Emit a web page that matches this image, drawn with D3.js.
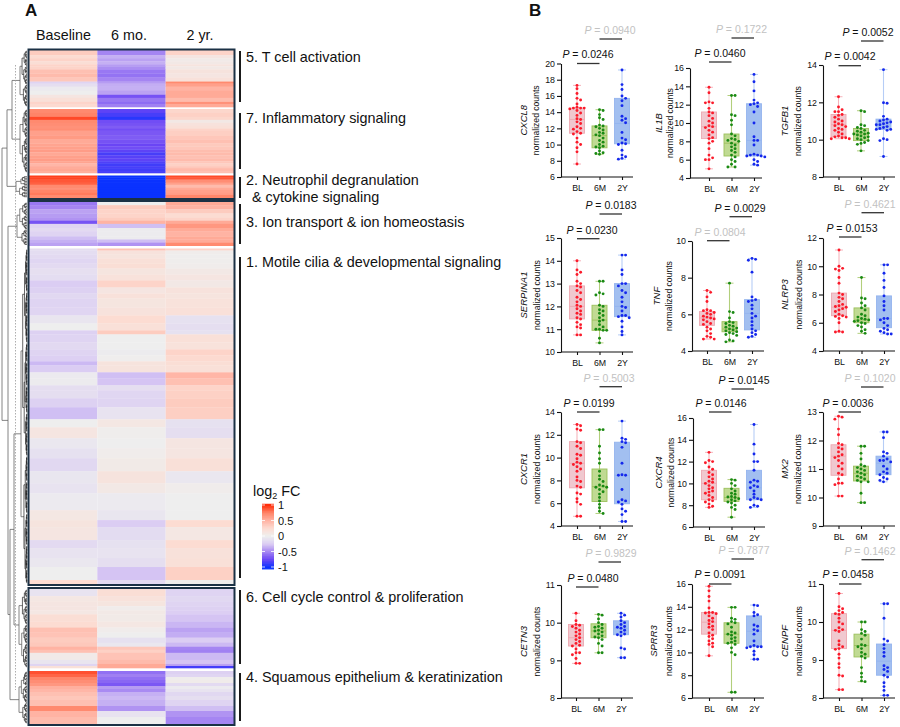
<!DOCTYPE html>
<html>
<head>
<meta charset="utf-8">
<style>
html,body{margin:0;padding:0;background:#fff}
svg{display:block}
text{font-family:"Liberation Sans",Arial,sans-serif;fill:#111}
</style>
<script src="https://cdn.jsdelivr.net/npm/d3@7"></script>
</head>
<body>
<svg id="chart" width="900" height="727"></svg>
<script>
// ---------- Panel A data: [row weight, Baseline, 6 mo., 2 yr.] log2 FC ----------
const columns = ["Baseline", "6 mo.", "2 yr."];
const cluster5 = [[5,.35,-.5,.3],[3,.25,-.35,.12],[3,.3,-.4,.05],[3,.22,-.35,.08],[2,.3,-.42,.14],[3,.3,-.47,.08],[4,.42,-.55,.15],[4,.45,-.57,.12],[4,.38,-.5,.18],[2,-.2,-.42,.72],[3,-.12,-.36,.6],[4,-.03,-.35,.5],[4,0,-.4,.55],[3,.12,-.7,.55],[4,.2,-.55,.45],[2,.3,-.6,.68],[3,.26,-.52,.55]];
const cluster7 = [[4,.72,-.78,.28],[4,.75,-.84,.32],[3,.92,-.92,.28],[3,.72,-.72,.08],[3,.7,-.7,.16],[3,.68,-.66,.2],[2,.7,-.72,.3],[5,.6,-.68,.33],[4,.63,-.66,.38],[4,.55,-.7,.42],[3,.58,-.75,.36],[3,.6,-.72,.38],[3,.62,-.78,.44],[3,.56,-.84,.45],[3,.6,-.8,.42],[3,.62,-.78,.45],[2,.58,-.82,.38],[3,.48,-.86,.32],[2,.54,-.84,.38],[3,.56,-.86,.46],[2,.52,-.84,.42]];
const cluster2 = [[2,.95,-1,.92],[2,.93,-1,.88],[3,.88,-1,.7],[2,.85,-1,.6],[3,.72,-1,.45],[2,.68,-1,.55],[3,.75,-1,.6],[2,.78,-1,.62],[3,.72,-1,.74]];
const cluster3 = [[3,-.55,0,.55],[4,-.5,.35,.5],[4,-.4,.3,.35],[4,-.42,.3,.25],[3,-.45,.35,.3],[3,-.7,.5,.55],[4,-.2,-.3,.65],[3,-.15,-.02,.55],[5,-.2,-.02,.5],[3,-.3,-.02,.55],[3,-.35,-.3,.55],[3,-.4,-.45,.72]];
const cluster1 = [[2,-.12,.4,.3],[4,-.13,.16,.03],[4,-.15,.14,.01],[5,-.18,.2,.02],[5,-.15,.22,.03],[6,-.11,.13,.08],[6,-.13,.17,.12],[7,-.25,.3,.08],[6,-.22,.12,.16],[5,-.17,.18,.14],[9,-.2,.13,.17],[8,-.19,.16,.19],[8,-.07,.25,-.1],[7,0,.2,-.12],[4,-.22,.35,-.1],[8,-.2,0,.2],[7,-.16,0,.17],[6,-.2,-.02,.3],[6,-.23,.01,.26],[4,-.32,.15,.22],[7,-.25,.15,.2],[6,-.03,-.3,.48],[7,-.02,-.28,.42],[5,-.12,-.12,.3],[8,-.12,-.18,.32],[9,-.22,-.2,.35],[12,-.3,-.08,.33],[8,0,.1,-.1],[11,.12,.02,-.12],[10,-.05,0,.12],[10,-.1,.03,.12],[13,-.17,.06,.2],[12,-.06,.15,-.05],[10,-.08,.08,.03],[17,-.03,-.03,0],[10,.1,-.06,0],[7,.14,-.25,.25],[13,.12,-.14,.1],[8,-.15,-.1,.25],[10,-.08,-.08,.18],[9,-.05,-.12,.2],[13,0,-.28,.32],[4,.25,-.15,.02]];
const cluster6 = [[7,-.08,.22,-.2],[5,.1,.17,-.17],[5,.12,.13,-.2],[4,.12,.03,-.22],[4,.1,.07,-.24],[7,.22,.06,-.28],[6,.25,.1,-.33],[5,.42,.03,-.4],[5,.4,0,-.36],[5,.35,-.1,-.25],[4,.37,-.05,-.32],[3,.5,.38,-.5],[3,.42,.32,-.52],[7,.05,.4,-.32],[4,-.07,.45,-.28],[2,-.2,.55,-.4],[2,.2,.55,-.85]];
const cluster4 = [[3,.9,-.58,-.22],[3,.84,-.52,-.18],[3,.74,-.58,.02],[3,.7,-.62,.04],[3,.65,-.68,-.15],[3,.52,-.42,-.03],[3,.48,-.48,-.08],[4,.42,-.35,-.17],[4,.38,-.32,-.12],[6,.42,-.35,-.2],[5,.72,-.45,-.3],[6,.5,-.08,-.45],[7,.45,0,-.5]];
const clusterNames = ["5. T cell activation","7. Inflammatory signaling","2. Neutrophil degranulation","3. Ion transport & ion homeostasis","1. Motile cilia & developmental signaling","6. Cell cycle control & proliferation","4. Squamous epithelium & keratinization"];
const colorStops = [-1,-.75,-.5,-.25,0,.25,.5,.75,1];
const colorValues = ["#0a32ff","#6a45f5","#a585f2","#dbcdf3","#eeeeee","#fcdcd2","#ffb3a3","#ff8468","#ff2d0a"];
const legendTicks = [1,.5,0,-.5,-1];

// ---------- Panel B data ----------
const groups = ["BL","6M","2Y"];
const genes = ["CXCL8","IL1B","TGFB1","SERPINA1","TNF","NLRP3","CXCR1","CXCR4","MX2","CETN3","SPRR3","CENPF"];
const pLower = ["0.0246","0.0460","0.0042","0.0230","0.0804","0.0153","0.0199","0.0146","0.0036","0.0480","0.0091","0.0458"];
const pUpper = ["0.0940","0.1722","0.0052","0.0183","0.0029","0.4621","0.5003","0.0145","0.1020","0.9829","0.7877","0.1462"];
const yDomains = [[6,20],[4,16],[8,14],[10,15],[4,10],[4,12],[4,14],[6,16],[9,13],[8,11],[6,16],[8,11]];
const yTickSteps = [2,2,2,1,2,2,2,2,1,1,2,1];

const cxcl8Box = [[11.4,13.1,14.5],[9.6,11.1,12.3],[10.1,12.6,15.7]];
const cxcl8BL = [17.3,16.9,16.3,15.7,15.5,15,14.6,14.5,14.5,14.5,14.4,14.2,13.9,13.6,13.2,13.1,12.8,12.6,12.2,12,11.9,11.6,11.4,11.3,10.8,10.3,10,9.6,9.1,7.6];
const cxcl86M = [14.3,14.2,13.7,13.3,13.1,12.4,12.3,12.2,12,11.8,11.5,11.4,11.2,11.1,10.8,10.5,10.3,10,9.8,9.7,9.6,9.2,9,8.9,8.8];
const cxcl82Y = [19.2,17.4,16.8,16,15.7,15.4,14.8,13.5,13.2,13,12.7,11.5,10.8,10.6,10.2,10.1,10,9.3,8.7,8.5,8.3,8.2];

const il1bBox = [[8.3,9.6,11.2],[6.4,7.8,8.8],[6.4,8.1,12.1]];
const il1bBL = [13.9,13.3,12.3,12.2,12.2,11.6,11.2,11.1,10.8,10.5,10.2,10,9.7,9.6,9.5,9.2,9,8.7,8.4,8.3,8,7.8,7.2,6.5,6.2,6,6,5];
const il1b6M = [13,13,10.9,10.8,10.3,9.8,8.8,8.6,8.3,8.2,8.1,8,7.8,7.6,7.4,7.2,7,6.8,6.5,6.3,6,5.8,5.5,5.2,5.2];
const il1b2Y = [15.3,14.5,13.5,12.5,12.2,12.1,12,11.8,11.2,10,8.5,8.1,8.1,7.6,6.6,6.5,6.5,6.4,6.4,6.3,6,5.8,5.5,5.4];

const tgfb1Box = [[10.15,10.8,11.35],[9.95,10.3,10.6],[10.55,10.8,11.1]];
const tgfb1BL = [12.3,11.75,11.6,11.5,11.5,11.35,11.3,11.2,11.1,11,10.95,10.85,10.8,10.75,10.7,10.6,10.55,10.5,10.4,10.3,10.2,10.15,10.1,10.1,10.05,10.05];
const tgfb16M = [11.55,11.5,10.8,10.75,10.65,10.6,10.5,10.45,10.4,10.35,10.3,10.3,10.25,10.2,10.15,10.1,10.05,10,9.95,9.85,9.8,9.75,9.4];
const tgfb12Y = [13.75,11.98,11.95,11.25,11.1,11.05,11,10.95,10.9,10.85,10.8,10.8,10.7,10.65,10.6,10.55,10.55,10.5,10.05,10,9.95,9.1];

const serpina1Box = [[11.45,12,12.9],[10.95,11.4,12.05],[11.55,12,13]];
const serpina1BL = [14,13.6,13.5,13.4,13.1,13,12.9,12.85,12.7,12.6,12.4,12.3,12.2,12.05,12,11.9,11.8,11.7,11.65,11.5,11.45,11.3,11.2,11.1,11.05,10.75,10.75];
const serpina16M = [13.1,13.1,12.6,12.55,12.5,12.05,12,11.85,11.8,11.7,11.6,11.5,11.4,11.35,11.2,11.1,11,11,10.95,10.95,10.6,10.4];
const serpina12Y = [14.25,14.25,13.6,13.4,13,13,12.9,12.7,12.6,12.4,12.2,12,11.95,11.8,11.6,11.6,11.55,11.5,11.35,11.1,10.9,10.75];

const tnfBox = [[5.4,5.8,6.15],[5.05,5.2,5.6],[5.15,6.05,6.8]];
const tnfBL = [7.3,7.2,6.95,6.7,6.25,6.2,6.2,6.1,6.05,6,5.9,5.85,5.8,5.75,5.7,5.6,5.5,5.45,5.3,5.2,5.1,4.95,4.8,4.75,4.65,4.65];
const tnf6M = [7.7,6.15,6.1,5.8,5.6,5.55,5.5,5.4,5.35,5.3,5.25,5.2,5.15,5.1,5.05,5,4.95,4.9,4.85,4.6,4.55,4.5];
const tnf2Y = [9.05,9,8.95,8.3,6.95,6.8,6.75,6.7,6.5,6.3,6.05,5.9,5.8,5.6,5.4,5.2,5.1,5,4.9,4.8,4.75];

const nlrp3Box = [[6.5,7.1,8.1],[6,6.2,7.05],[5.65,6.3,7.9]];
const nlrp3BL = [11.15,10,9.85,9.8,9.7,9.2,8.8,8.1,8,7.8,7.7,7.5,7.3,7.2,7.15,7.1,7,6.9,6.8,6.6,6.5,6.45,6.4,6.3,6,5.4,5.35,5.35];
const nlrp36M = [9.2,7.75,7.7,7.4,7.2,7.05,6.9,6.6,6.5,6.4,6.3,6.25,6.2,6.15,6.1,6,5.95,5.8,5.7,5.5,5.4,5.25];
const nlrp32Y = [10.1,10.1,9.5,9,8.5,7.9,7.5,7.2,6.9,6.3,6.3,6.2,6,5.8,5.6,5.5,5.4,5.3,5.2,5.2];

const cxcr1Box = [[7.35,9.5,11.4],[6.15,7.45,9],[5.95,8.45,11.35]];
const cxcr1BL = [12.9,12.8,12.5,12.4,11.4,11.3,11,10.8,10.3,10.2,9.9,9.6,9.5,9.4,9.2,9,8.8,8.3,8,7.9,7.5,7.4,6.9,6.8,6.4,6.1,5.9,4.85,4.85];
const cxcr16M = [12.45,12.45,11,10.4,9.9,9.5,8.8,8.4,8.1,7.9,7.6,7.5,7.4,7.4,7.2,7,6.8,6.5,6.2,5.9,5.6,5.3,5.1];
const cxcr12Y = [13.2,11.7,11.6,11.4,11.3,10.9,9.5,8.5,8.45,8.45,7.2,6.3,6.2,6.1,5.9,5.5,5.3,5,4.4,4.4];

const cxcr4Box = [[8.5,10,11.2],[8.35,8.7,9.55],[8.5,9.6,11.2]];
const cxcr4BL = [12.85,12.1,12,11.9,11.5,11.3,11,10.8,10.6,10.4,10.2,10.1,10,9.8,9.6,9.5,9.3,9.2,9.1,8.9,8.7,8.5,8.4,8.3,8.1,7.9,7.8];
const cxcr46M = [10.35,10.3,10,9.8,9.5,9.3,9.1,9,8.8,8.75,8.7,8.6,8.5,8.4,8.3,8.2,8,7.8,7.6,6.9];
const cxcr42Y = [15.4,13.6,12.7,12,12,11.2,10.3,10.2,10.1,9.8,9.7,9.6,9.3,9,8.7,8.6,8.5,8.5,8,7.9,7.8];

const mx2Box = [[10.78,11.45,11.85],[10.58,10.85,11.1],[10.8,11.2,11.45]];
const mx2BL = [12.85,12.82,12.75,12.4,12.2,11.9,11.85,11.75,11.7,11.6,11.5,11.45,11.4,11.3,11.2,11.1,11,10.85,10.8,10.65,10.5,10.5,10.45,10.05,10.05];
const mx26M = [11.8,11.8,11.55,11.35,11.15,11.1,11.05,11,10.95,10.9,10.85,10.8,10.75,10.7,10.65,10.6,10.55,10.55,10.15,9.82,9.82];
const mx22Y = [12.3,12.3,12.1,11.6,11.55,11.45,11.35,11.3,11.3,11.25,11.1,11,10.9,10.85,10.8,10.7,10.65,10.6,10.55];

const cetn3Box = [[9.38,9.6,9.95],[9.6,9.78,9.97],[9.68,9.85,10.05]];
const cetn3BL = [10.25,10.05,9.95,9.93,9.9,9.85,9.8,9.75,9.7,9.65,9.6,9.55,9.5,9.45,9.4,9.38,9.3,9.2,9.2,9.15,9.05,8.92,8.92];
const cetn36M = [10.22,10.2,10.1,10,9.95,9.9,9.88,9.85,9.8,9.78,9.75,9.7,9.65,9.62,9.6,9.55,9.45,9.38,9.2,9.2];
const cetn32Y = [10.25,10.2,10.15,10.05,10,9.95,9.9,9.88,9.85,9.8,9.75,9.7,9.68,9.65,9.33,9.3,9.07,9.07];

const sprr3Box = [[11.6,12.65,13.5],[10.8,11.6,12.6],[10.5,11.85,13.2]];
const sprr3BL = [15.8,15.4,14.9,14.5,13.9,13.5,13.5,13.45,13.4,13.2,13,12.8,12.7,12.5,12.3,12.2,12,11.7,11.5,11.4,11.2,11,10.8,10.7,10.5,9.7];
const sprr36M = [13.95,13.95,13,12.9,12.7,12.6,12.5,12.2,11.8,11.7,11.6,11.5,11.3,11.2,11,10.9,10.8,10.7,10.4,10,9.8,6.5,6.5];
const sprr32Y = [14.15,14.1,13.5,13.3,13.2,12.4,12.3,12,11.9,11.6,11,10.6,10.5,10.5,10.5,10.4,10.1,9.8,9.4,9.4];

const cenpfBox = [[9.3,9.78,10.22],[9.08,9.38,9.68],[8.6,8.97,9.42]];
const cenpfBL = [10.75,10.4,10.35,10.3,10.25,10.22,10.2,10.1,10,9.95,9.85,9.8,9.78,9.75,9.5,9.4,9.35,9.3,9.28,9.15,9.05,8.9,8.8,8.6,8.58,8.22,8.22];
const cenpf6M = [10,10,9.8,9.75,9.7,9.65,9.55,9.4,9.38,9.35,9.3,9.2,9.15,9.1,9.05,8.8,8.65,8.55,8.45,8.43];
const cenpf2Y = [10.48,10.48,10.1,9.55,9.5,9.4,9.3,9.2,9.1,8.85,8.8,8.75,8.7,8.6,8.55,8.4,8.3,8.2,8.07,8.07];

const panelBoxes = [cxcl8Box,il1bBox,tgfb1Box,serpina1Box,tnfBox,nlrp3Box,cxcr1Box,cxcr4Box,mx2Box,cetn3Box,sprr3Box,cenpfBox];
const panelPoints = [[cxcl8BL,cxcl86M,cxcl82Y],[il1bBL,il1b6M,il1b2Y],[tgfb1BL,tgfb16M,tgfb12Y],[serpina1BL,serpina16M,serpina12Y],[tnfBL,tnf6M,tnf2Y],[nlrp3BL,nlrp36M,nlrp32Y],[cxcr1BL,cxcr16M,cxcr12Y],[cxcr4BL,cxcr46M,cxcr42Y],[mx2BL,mx26M,mx22Y],[cetn3BL,cetn36M,cetn32Y],[sprr3BL,sprr36M,sprr32Y],[cenpfBL,cenpf6M,cenpf2Y]];

// ---------- Layout (pixels) ----------
const clusterLayout = [
  {rows:cluster5,y0:50,y1:107,label:0,labelY:[62],bar:[51,102],dendro:20},
  {rows:cluster7,y0:109,y1:173,label:1,labelY:[123],bar:[113,169],dendro:20},
  {rows:cluster2,y0:175.5,y1:198,label:2,labelY:[185],bar:[177,198],dendro:16},
  {rows:cluster3,y0:202,y1:245.7,label:3,labelY:[227],bar:[204,244],dendro:17},
  {rows:cluster1,y0:248.5,y1:584,label:4,labelY:[267],bar:[257,578],dendro:21},
  {rows:cluster6,y0:589,y1:668,label:5,labelY:[602],bar:[590,664],dendro:19},
  {rows:cluster4,y0:671,y1:724,label:6,labelY:[682],bar:[673,721],dendro:19}
];
const frames = [[49.5,199],[201,585],[588,725]];
//           axisX cat0 yTop yBot gene norm lowX lowY lowBar upX upY upBar
const panelLayout = [
 [561,577,63.5,177,-34,-22,588,58,63.5,610,34,39],
 [690,709,68,178,-28,-17,720,57,62,741.5,33,38],
 [823,838.5,65,177,-35,-22,850,60,65.7,868,36,41],
 [561,577,238,352,-34,-21,592,234,238.7,611,209,214],
 [692,707,241,351,-32,-20,720,235.7,240.7,740,212,216.7],
 [823,839,238,351,-35,-21,852,232,237,870,208,212.7],
 [561,577,412,526,-34,-21,589,406.7,412,609,382,386.7],
 [693,709,418,527,-31,-19,721,407,412,744,384,389],
 [823,838.5,412,526,-35,-22,848,407,412,870,382,387],
 [561,576,585,698,-34,-21,593,582,587,611,557,562],
 [692,709,584,698,-35,-20,720,578,584,744,554,559],
 [823,839,584,698,-35,-21,848,578,584,870,555,559.7]
];
const groupStyle = {
  BL:{dot:"#fb1a2a",fill:"#f0c8cf",edge:"#eda8b1",whisk:"#f6b4bc"},
  "6M":{dot:"#1a8a14",fill:"#c0da93",edge:"#9cc05c",whisk:"#b2cf7c"},
  "2Y":{dot:"#1428ec",fill:"#a2bff0",edge:"#94b4ee",whisk:"#b6cdf6"}
};

const svg = d3.select("#chart");
const color = d3.scaleLinear().domain(colorStops).range(colorValues).clamp(true);

// ---------- Heatmap ----------
const xHeat = d3.scaleBand().domain(columns).range([29,234]);
const gHeat = svg.append("g");
clusterLayout.forEach(c => {
  const total = d3.sum(c.rows, r => r[0]);
  const y = d3.scaleLinear().domain([0,total]).range([c.y0,c.y1]);
  let acc = 0;
  c.rows.forEach(r => {
    const top = y(acc), bot = y(acc + r[0]);
    columns.forEach((col,i) => {
      gHeat.append("rect").attr("x",xHeat(col)).attr("y",top)
        .attr("width",xHeat.bandwidth()).attr("height",Math.max(bot-top,.5)+.3)
        .attr("fill",color(r[i+1]));
    });
    acc += r[0];
  });
});
svg.append("g").selectAll("rect").data(frames).join("rect")
  .attr("x",28.5).attr("width",206).attr("y",d=>d[0]).attr("height",d=>d[1]-d[0])
  .attr("fill","none").attr("stroke","#1b3145").attr("stroke-width",2);

svg.append("g").selectAll("text").data(columns).join("text")
  .attr("x",(d,i)=>[63.5,129,200][i]).attr("y",40).attr("text-anchor","middle")
  .attr("font-size",14.3).text(d=>d);

svg.append("text").attr("x",25).attr("y",15.5).attr("font-size",17).attr("font-weight","bold").text("A");
svg.append("text").attr("x",529).attr("y",15.5).attr("font-size",17).attr("font-weight","bold").text("B");

// cluster brackets and labels
clusterLayout.forEach(c => {
  svg.append("line").attr("x1",240).attr("x2",240).attr("y1",c.bar[0]).attr("y2",c.bar[1])
    .attr("stroke","#000").attr("stroke-width",1.8);
  svg.append("text").attr("x",246).attr("y",c.labelY[0]).attr("font-size",14.4).text(clusterNames[c.label]);
});
svg.append("text").attr("x",252).attr("y",202).attr("font-size",14.4).text("& cytokine signaling");

// ---------- Dendrogram ----------
const xDendro = d3.scaleLinear().domain([2,27]).range([2,27]);
function clusterTree(c){
  const n = Math.round((c.y1-c.y0)/1.6);
  const yL = d3.scaleLinear().domain([0,n]).range([c.y0+.5,c.y1-.5]);
  function build(lo,hi){
    if(hi-lo===1) return {h:27,y:yL(lo+.5)};
    const mid = lo + Math.max(1,Math.round((hi-lo)*(((lo+hi)%3===0)?.62:.45)));
    return {h:27-(27-c.dendro)*Math.pow((hi-lo)/n,.7),children:[build(lo,mid),build(mid,hi)]};
  }
  return build(0,n);
}
const T = clusterLayout.map(clusterTree);
const dendroRoot = {h:2,children:[
  {h:7,children:[{h:12,children:[T[0],T[1]]},T[2]]},
  {h:8,children:[T[3],
    {h:10,children:[{h:14,children:[T[4],T[5]]},T[6]]}]}
]};
const hier = d3.hierarchy(dendroRoot);
hier.eachAfter(n => { if(n.children) n.data.y = d3.mean(n.children,k=>k.data.y); });
const gD = svg.append("g").attr("fill","none");
hier.descendants().filter(n=>n.children).forEach(n => {
  const x = xDendro(n.data.h);
  const ys = n.children.map(k=>k.data.y);
  const deep = n.data.h > 22;
  let d = `M${x},${d3.min(ys)}V${d3.max(ys)}`;
  n.children.forEach(k => { d += `M${x},${k.data.y}H${xDendro(k.data.h)}`; });
  gD.append("path").attr("d",d).attr("stroke",deep?"#222":"#666").attr("stroke-width",deep?.7:.8);
});
svg.append("line").attr("x1",15.5).attr("x2",15.5).attr("y1",65).attr("y2",690)
  .attr("stroke","#999").attr("stroke-width",.8).attr("stroke-dasharray","1.5 1.5");

// ---------- Legend ----------
const yLegend = d3.scaleLinear().domain([1,-1]).range([505,567]);
const legendSteps = d3.range(1.04,-1.05,-.02);
svg.append("g").selectAll("rect").data(legendSteps).join("rect")
  .attr("x",262).attr("width",12).attr("y",d=>yLegend(d)).attr("height",1.2).attr("fill",d=>color(d));
const gLeg = svg.append("g");
legendTicks.forEach(t => {
  gLeg.append("path").attr("d",`M262,${yLegend(t)}h3M274,${yLegend(t)}h-3`).attr("stroke","#fff").attr("stroke-width",.8);
  gLeg.append("text").attr("x",278).attr("y",yLegend(t)+4).attr("font-size",11).text(t);
});
const lt = svg.append("text").attr("x",253).attr("y",496).attr("font-size",14.4);
lt.append("tspan").text("log");
lt.append("tspan").attr("font-size",9).attr("dy",3).text("2");
lt.append("tspan").attr("dy",-3).text(" FC");

// ---------- Box plots ----------
function swarm(values, yScale, cx){
  const placed = [];
  const step = 3.6, minD = 3.1;
  [...values].sort((a,b)=>d3.descending(a,b)).forEach(v => {
    const py = yScale(v);
    const order = [0,1,-1,2,-2,3,-3];
    for(const k of order){
      const px = cx + k*step;
      if(placed.every(p => Math.hypot(p.x-px,p.y-py) >= minD) || k===-3){
        placed.push({x:px,y:py}); break;
      }
    }
  });
  return placed;
}
function pLabel(g,x,y,value){
  const t = g.append("text").attr("x",x).attr("y",y).attr("text-anchor","middle").attr("font-size",10.5)
    .style("fill", +value < .05 ? "#111" : "#c2c2c2");
  t.append("tspan").attr("font-style","italic").text("P");
  t.append("tspan").text(" = " + value);
}
genes.forEach((gene,i) => {
  const [ax,c0,yT,yB,gOff,nOff,lowX,lowY,lowBar,upX,upY,upBar] = panelLayout[i];
  const g = svg.append("g");
  const y = d3.scaleLinear().domain(yDomains[i]).range([yB,yT]);
  const x = d3.scalePoint().domain(groups).range([c0,c0+45]);
  groups.forEach((grp,j) => {
    const st = groupStyle[grp];
    const pts = panelPoints[i][j];
    const [q1,med,q3] = panelBoxes[i][j];
    const [lo,hi] = d3.extent(pts);
    const cx = x(grp);
    g.append("line").attr("x1",cx).attr("x2",cx).attr("y1",y(lo)).attr("y2",y(hi)).attr("stroke",st.whisk).attr("stroke-width",1.1);
    [lo,hi].forEach(v => g.append("line").attr("x1",cx-4).attr("x2",cx+4).attr("y1",y(v)).attr("y2",y(v)).attr("stroke",st.whisk).attr("stroke-width",1));
    g.append("rect").attr("x",cx-7.5).attr("width",15).attr("y",y(q3)).attr("height",y(q1)-y(q3))
      .attr("fill",st.fill).attr("stroke",st.edge).attr("stroke-width",.9);
    g.append("line").attr("x1",cx-7.5).attr("x2",cx+7.5).attr("y1",y(med)).attr("y2",y(med)).attr("stroke",st.edge).attr("stroke-width",.9);
    g.selectAll(null).data(swarm(pts,y,cx)).join("circle")
      .attr("cx",d=>d.x).attr("cy",d=>d.y).attr("r",1.45).attr("fill",st.dot);
  });
  const [d0,d1] = yDomains[i];
  const yAxis = d3.axisLeft(y).tickValues(d3.range(d0,d1+.001,yTickSteps[i])).tickFormat(d3.format("d")).tickSize(4).tickPadding(2).tickSizeOuter(0);
  const ga = g.append("g").attr("transform",`translate(${ax},0)`).call(yAxis);
  const xAxis = d3.axisBottom(x).tickSize(3).tickPadding(5);
  const gb = g.append("g").attr("transform",`translate(0,${yB})`).call(xAxis);
  gb.select(".domain").remove();
  g.append("line").attr("x1",ax).attr("x2",ax+72).attr("y1",yB).attr("y2",yB).attr("stroke","#111").attr("stroke-width",1.2);
  [ga,gb].forEach(a => {
    a.selectAll("text").attr("font-size",8.8).style("font-family",'"Liberation Sans",Arial,sans-serif').style("fill","#111");
    a.selectAll(".tick line, .domain").attr("stroke","#111").attr("stroke-width",1.1);
  });
  const yc = (yT+yB)/2;
  g.append("text").attr("transform",`translate(${ax+gOff},${yc}) rotate(-90)`).attr("text-anchor","middle")
    .attr("font-size",9.5).attr("font-style","italic").text(gene);
  g.append("text").attr("transform",`translate(${ax+nOff},${yc}) rotate(-90)`).attr("text-anchor","middle")
    .attr("font-size",8.6).text("normalized counts");
  pLabel(g,lowX,lowY,pLower[i]);
  pLabel(g,upX,upY,pUpper[i]);
  g.append("line").attr("x1",x("BL")).attr("x2",x("6M")).attr("y1",lowBar).attr("y2",lowBar).attr("stroke","#333").attr("stroke-width",1.3);
  g.append("line").attr("x1",x("6M")).attr("x2",x("2Y")).attr("y1",upBar).attr("y2",upBar).attr("stroke","#333").attr("stroke-width",1.3);
});
</script>
</body>
</html>
